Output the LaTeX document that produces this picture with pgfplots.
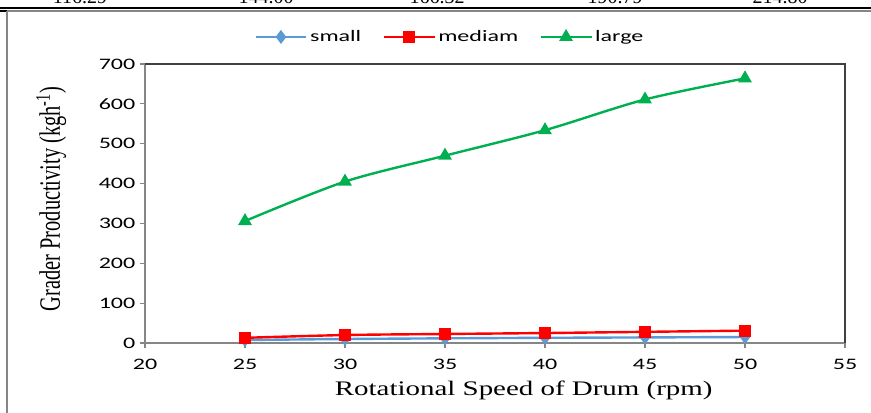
\documentclass[border=0pt]{standalone}
\usepackage{fontspec}
\usepackage{graphicx}
\usepackage{pgfplots}
\pgfplotsset{compat=1.18}
\setmainfont{Liberation Serif}
\newfontfamily\tickfont[FakeStretch=1.5]{Carlito}
\newfontfamily\xlabfont[FakeStretch=1.4]{Liberation Serif}

\definecolor{cSmall}{RGB}{91,155,213}
\definecolor{cMed}{RGB}{255,0,0}
\definecolor{cLarge}{RGB}{0,176,80}
\definecolor{axgray}{RGB}{134,134,134}

\begin{document}
\begin{tikzpicture}
\useasboundingbox (0,0) rectangle (653.25pt,-309.75pt);

% frame of the page the chart was cut from
\begin{scope}[x=0.75pt,y=-0.75pt]
  \begin{scope}
    \clip (0,0) rectangle (871,413);
    \foreach \xx/\vv in {80/116.29, 266/144.00, 437/166.32, 615/190.79, 780/214.80}
      \node[anchor=base, font=\fontsize{15}{18}\selectfont, inner sep=0pt] at (\xx,3.5) {\vv};
  \end{scope}
  \draw[line width=1.5pt] (0,8) -- (871,8);
  \draw[line width=0.8pt] (0,11) -- (7,11);
  \draw[axgray, line width=0.8pt] (7,11) -- (871,11);
  \draw[axgray, line width=1.2pt] (7,11) -- (7,413);
\end{scope}

\begin{axis}[
    at={(108.75pt,-257.25pt)}, anchor=south west,
    scale only axis,
    width=525pt, height=209.25pt,
    xmin=20, xmax=55, ymin=0, ymax=700,
    xtick={20,25,...,55},
    ytick={0,100,...,700},
    xtick pos=bottom, ytick pos=left,
    tick align=outside,
    major tick length=3.75pt,
    tick style={axgray, line width=0.8pt},
    axis line style={axgray, line width=0.8pt},
    /pgf/number format/assume math mode=true,
    ticklabel style={font=\tickfont\fontsize{12}{14}\selectfont},
    xticklabel style={yshift=-5pt},
    xlabel={\xlabfont\fontsize{15.5}{18}\selectfont Rotational Speed of Drum (rpm)},
    xlabel style={at={(axis description cs:0.541,-0.170)}, anchor=center},
    ylabel={\scalebox{1}[1.45]{\fontsize{15.3}{18}\selectfont Grader Productivity (kgh\textsuperscript{-1})}},
    ylabel style={at={(axis description cs:-0.134,0.516)}, anchor=center},
    legend columns=3,
    legend style={draw=none, fill=none, at={(axis description cs:0.436,1.097)}, anchor=center,
      font=\tickfont\fontsize{12}{14}\selectfont,
      /tikz/every even column/.append style={column sep=14pt}},
    legend image code/.code={
      \draw[mark repeat=2, mark phase=2, #1] plot coordinates {(0pt,0pt) (19pt,0pt) (38pt,0pt)};
    },
    clip=false,
]
\addplot[cSmall, line width=1.8pt, smooth, mark=diamond*, mark size=3.8pt, mark options={solid}]
  coordinates {(25,7.5) (30,10) (35,11.7) (40,13) (45,14) (50,15)};
\addlegendentry{small}
\addplot[cMed, line width=1.8pt, smooth, mark=square*, mark size=3.5pt, mark options={solid}]
  coordinates {(25,13) (30,20) (35,22.6) (40,25) (45,28) (50,31)};
\addlegendentry{mediam}
\addplot[cLarge, line width=1.8pt, smooth, mark=triangle*, mark size=4.2pt, mark options={solid}]
  coordinates {(25,306) (30,405) (35,470) (40,534) (45,611) (50,664)};
\addlegendentry{large}
\draw[black!75, line width=0.8pt] (rel axis cs:0,1) -- (rel axis cs:1,1) -- (rel axis cs:1,0);
\end{axis}
\end{tikzpicture}
\end{document}
